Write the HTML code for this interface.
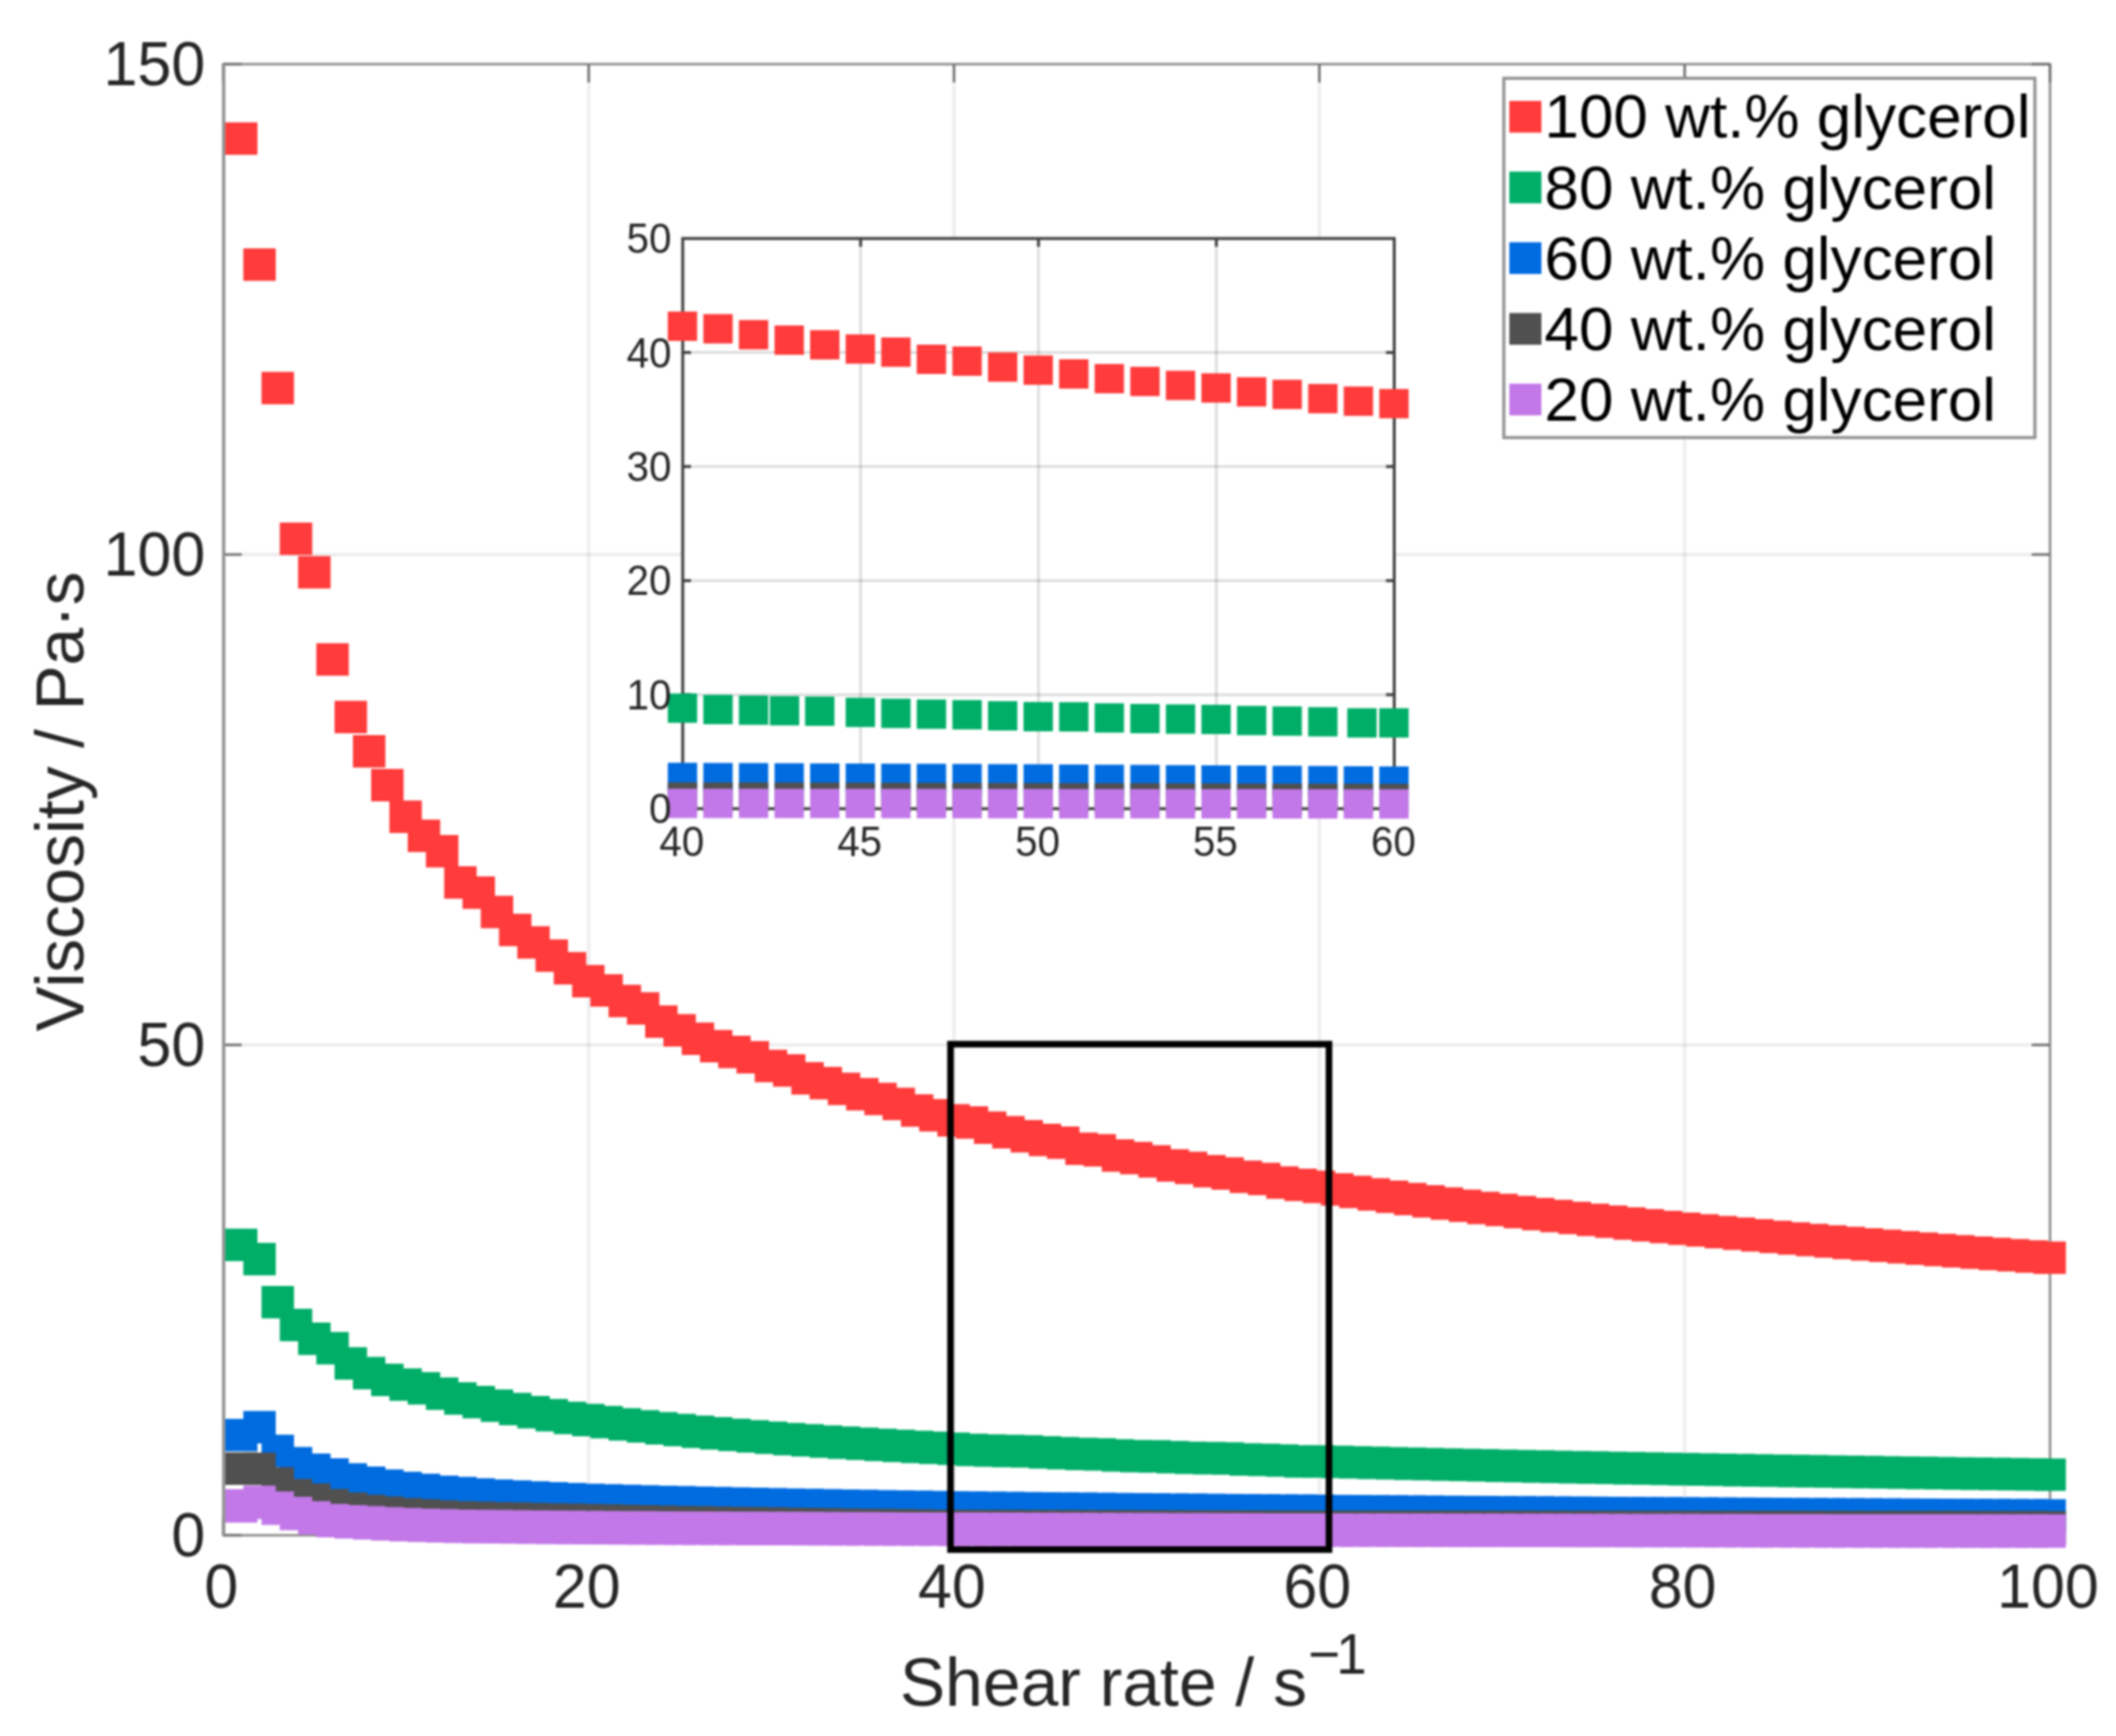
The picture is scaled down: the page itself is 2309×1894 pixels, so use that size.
<!DOCTYPE html>
<html lang="en"><head><meta charset="utf-8"><title>Viscosity vs shear rate</title>
<style>html,body{margin:0;padding:0;background:#fff}body{width:2309px;height:1894px;overflow:hidden}svg{display:block;filter:blur(0.8px)}</style>
</head><body>
<svg width="2309" height="1894" viewBox="0 0 2309 1894" font-family="'Liberation Sans', Arial, Helvetica, sans-serif">
<rect width="2309" height="1894" fill="#fff"/>
<g stroke="rgba(30,30,30,0.075)" stroke-width="3.8">
<line x1="642.4" y1="70.0" x2="642.4" y2="1675.0"/>
<line x1="1041.0" y1="70.0" x2="1041.0" y2="1675.0"/>
<line x1="1439.7" y1="70.0" x2="1439.7" y2="1675.0"/>
<line x1="1838.3" y1="70.0" x2="1838.3" y2="1675.0"/>
<line x1="243.7" y1="1140.0" x2="2237.0" y2="1140.0"/>
<line x1="243.7" y1="605.0" x2="2237.0" y2="605.0"/>
</g>
<rect x="243.7" y="70.0" width="1993.3" height="1605.0" fill="none" stroke="#8a8a8a" stroke-width="2.6"/>
<g stroke="#6e6e6e" stroke-width="2.6">
<line x1="243.7" y1="70.0" x2="243.7" y2="90.0"/>
<line x1="243.7" y1="1675.0" x2="243.7" y2="1655.0"/>
<line x1="642.4" y1="70.0" x2="642.4" y2="90.0"/>
<line x1="642.4" y1="1675.0" x2="642.4" y2="1655.0"/>
<line x1="1041.0" y1="70.0" x2="1041.0" y2="90.0"/>
<line x1="1041.0" y1="1675.0" x2="1041.0" y2="1655.0"/>
<line x1="1439.7" y1="70.0" x2="1439.7" y2="90.0"/>
<line x1="1439.7" y1="1675.0" x2="1439.7" y2="1655.0"/>
<line x1="1838.3" y1="70.0" x2="1838.3" y2="90.0"/>
<line x1="1838.3" y1="1675.0" x2="1838.3" y2="1655.0"/>
<line x1="2237.0" y1="70.0" x2="2237.0" y2="90.0"/>
<line x1="2237.0" y1="1675.0" x2="2237.0" y2="1655.0"/>
<line x1="243.7" y1="1675.0" x2="263.7" y2="1675.0"/>
<line x1="2237.0" y1="1675.0" x2="2217.0" y2="1675.0"/>
<line x1="243.7" y1="1140.0" x2="263.7" y2="1140.0"/>
<line x1="2237.0" y1="1140.0" x2="2217.0" y2="1140.0"/>
<line x1="243.7" y1="605.0" x2="263.7" y2="605.0"/>
<line x1="2237.0" y1="605.0" x2="2217.0" y2="605.0"/>
<line x1="243.7" y1="70.0" x2="263.7" y2="70.0"/>
<line x1="2237.0" y1="70.0" x2="2217.0" y2="70.0"/>
</g>
<g fill="#ff3b3b">
<rect x="245.5" y="133.5" width="35.4" height="35.4"/>
<rect x="265.5" y="271.0" width="35.4" height="35.4"/>
<rect x="285.4" y="405.7" width="35.4" height="35.4"/>
<rect x="305.3" y="570.1" width="35.4" height="35.4"/>
<rect x="325.3" y="606.7" width="35.4" height="35.4"/>
<rect x="345.2" y="701.8" width="35.4" height="35.4"/>
<rect x="365.1" y="764.6" width="35.4" height="35.4"/>
<rect x="385.1" y="802.0" width="35.4" height="35.4"/>
<rect x="405.0" y="838.9" width="35.4" height="35.4"/>
<rect x="424.9" y="873.4" width="35.4" height="35.4"/>
<rect x="444.9" y="894.2" width="35.4" height="35.4"/>
<rect x="464.8" y="911.0" width="35.4" height="35.4"/>
<rect x="484.7" y="945.1" width="35.4" height="35.4"/>
<rect x="504.7" y="956.2" width="35.4" height="35.4"/>
<rect x="524.6" y="977.3" width="35.4" height="35.4"/>
<rect x="544.5" y="996.9" width="35.4" height="35.4"/>
<rect x="564.5" y="1010.5" width="35.4" height="35.4"/>
<rect x="584.4" y="1024.9" width="35.4" height="35.4"/>
<rect x="604.3" y="1038.7" width="35.4" height="35.4"/>
<rect x="624.3" y="1052.8" width="35.4" height="35.4"/>
<rect x="644.2" y="1062.9" width="35.4" height="35.4"/>
<rect x="664.1" y="1074.4" width="35.4" height="35.4"/>
<rect x="684.1" y="1082.5" width="35.4" height="35.4"/>
<rect x="704.0" y="1096.9" width="35.4" height="35.4"/>
<rect x="723.9" y="1106.4" width="35.4" height="35.4"/>
<rect x="743.9" y="1115.6" width="35.4" height="35.4"/>
<rect x="763.8" y="1123.7" width="35.4" height="35.4"/>
<rect x="783.7" y="1130.0" width="35.4" height="35.4"/>
<rect x="803.7" y="1135.8" width="35.4" height="35.4"/>
<rect x="823.6" y="1145.3" width="35.4" height="35.4"/>
<rect x="843.5" y="1150.2" width="35.4" height="35.4"/>
<rect x="863.5" y="1158.8" width="35.4" height="35.4"/>
<rect x="883.4" y="1164.0" width="35.4" height="35.4"/>
<rect x="903.3" y="1170.3" width="35.4" height="35.4"/>
<rect x="923.3" y="1176.1" width="35.4" height="35.4"/>
<rect x="943.2" y="1181.3" width="35.4" height="35.4"/>
<rect x="963.1" y="1186.7" width="35.4" height="35.4"/>
<rect x="983.1" y="1193.9" width="35.4" height="35.4"/>
<rect x="1003.0" y="1199.1" width="35.4" height="35.4"/>
<rect x="1022.9" y="1204.6" width="35.4" height="35.4"/>
<rect x="1042.9" y="1207.0" width="35.4" height="35.4"/>
<rect x="1062.8" y="1212.6" width="35.4" height="35.4"/>
<rect x="1082.7" y="1217.6" width="35.4" height="35.4"/>
<rect x="1102.7" y="1222.0" width="35.4" height="35.4"/>
<rect x="1122.6" y="1226.0" width="35.4" height="35.4"/>
<rect x="1142.5" y="1229.0" width="35.4" height="35.4"/>
<rect x="1162.5" y="1235.6" width="35.4" height="35.4"/>
<rect x="1182.4" y="1237.3" width="35.4" height="35.4"/>
<rect x="1202.3" y="1243.0" width="35.4" height="35.4"/>
<rect x="1222.2" y="1245.8" width="35.4" height="35.4"/>
<rect x="1242.2" y="1249.4" width="35.4" height="35.4"/>
<rect x="1262.1" y="1253.8" width="35.4" height="35.4"/>
<rect x="1282.0" y="1256.5" width="35.4" height="35.4"/>
<rect x="1302.0" y="1260.1" width="35.4" height="35.4"/>
<rect x="1321.9" y="1262.6" width="35.4" height="35.4"/>
<rect x="1341.8" y="1266.2" width="35.4" height="35.4"/>
<rect x="1361.8" y="1268.6" width="35.4" height="35.4"/>
<rect x="1381.7" y="1272.5" width="35.4" height="35.4"/>
<rect x="1401.6" y="1275.0" width="35.4" height="35.4"/>
<rect x="1421.6" y="1277.2" width="35.4" height="35.4"/>
<rect x="1441.5" y="1280.0" width="35.4" height="35.4"/>
<rect x="1461.4" y="1282.7" width="35.4" height="35.4"/>
<rect x="1481.4" y="1285.4" width="35.4" height="35.4"/>
<rect x="1501.3" y="1288.0" width="35.4" height="35.4"/>
<rect x="1521.2" y="1290.5" width="35.4" height="35.4"/>
<rect x="1541.2" y="1293.0" width="35.4" height="35.4"/>
<rect x="1561.1" y="1295.4" width="35.4" height="35.4"/>
<rect x="1581.0" y="1297.8" width="35.4" height="35.4"/>
<rect x="1601.0" y="1300.2" width="35.4" height="35.4"/>
<rect x="1620.9" y="1302.4" width="35.4" height="35.4"/>
<rect x="1640.8" y="1304.7" width="35.4" height="35.4"/>
<rect x="1660.8" y="1306.9" width="35.4" height="35.4"/>
<rect x="1680.7" y="1309.0" width="35.4" height="35.4"/>
<rect x="1700.6" y="1311.1" width="35.4" height="35.4"/>
<rect x="1720.6" y="1313.2" width="35.4" height="35.4"/>
<rect x="1740.5" y="1315.2" width="35.4" height="35.4"/>
<rect x="1760.4" y="1317.2" width="35.4" height="35.4"/>
<rect x="1780.4" y="1319.1" width="35.4" height="35.4"/>
<rect x="1800.3" y="1321.0" width="35.4" height="35.4"/>
<rect x="1820.2" y="1322.9" width="35.4" height="35.4"/>
<rect x="1840.2" y="1324.7" width="35.4" height="35.4"/>
<rect x="1860.1" y="1326.6" width="35.4" height="35.4"/>
<rect x="1880.0" y="1328.3" width="35.4" height="35.4"/>
<rect x="1900.0" y="1330.1" width="35.4" height="35.4"/>
<rect x="1919.9" y="1331.8" width="35.4" height="35.4"/>
<rect x="1939.8" y="1333.5" width="35.4" height="35.4"/>
<rect x="1959.8" y="1335.2" width="35.4" height="35.4"/>
<rect x="1979.7" y="1336.8" width="35.4" height="35.4"/>
<rect x="1999.6" y="1338.4" width="35.4" height="35.4"/>
<rect x="2019.6" y="1340.0" width="35.4" height="35.4"/>
<rect x="2039.5" y="1341.5" width="35.4" height="35.4"/>
<rect x="2059.4" y="1343.1" width="35.4" height="35.4"/>
<rect x="2079.4" y="1344.6" width="35.4" height="35.4"/>
<rect x="2099.3" y="1346.1" width="35.4" height="35.4"/>
<rect x="2119.2" y="1347.5" width="35.4" height="35.4"/>
<rect x="2139.2" y="1349.0" width="35.4" height="35.4"/>
<rect x="2159.1" y="1350.4" width="35.4" height="35.4"/>
<rect x="2179.0" y="1351.8" width="35.4" height="35.4"/>
<rect x="2199.0" y="1353.2" width="35.4" height="35.4"/>
<rect x="2218.9" y="1354.5" width="35.4" height="35.4"/>
</g>
<g fill="#00ae68">
<rect x="245.5" y="1340.5" width="35.4" height="35.4"/>
<rect x="265.5" y="1356.0" width="35.4" height="35.4"/>
<rect x="285.4" y="1403.0" width="35.4" height="35.4"/>
<rect x="305.3" y="1427.9" width="35.4" height="35.4"/>
<rect x="325.3" y="1442.9" width="35.4" height="35.4"/>
<rect x="345.2" y="1453.2" width="35.4" height="35.4"/>
<rect x="365.1" y="1469.8" width="35.4" height="35.4"/>
<rect x="385.1" y="1480.4" width="35.4" height="35.4"/>
<rect x="405.0" y="1487.8" width="35.4" height="35.4"/>
<rect x="424.9" y="1492.9" width="35.4" height="35.4"/>
<rect x="444.9" y="1497.0" width="35.4" height="35.4"/>
<rect x="464.8" y="1502.8" width="35.4" height="35.4"/>
<rect x="484.7" y="1508.1" width="35.4" height="35.4"/>
<rect x="504.7" y="1512.0" width="35.4" height="35.4"/>
<rect x="524.6" y="1515.9" width="35.4" height="35.4"/>
<rect x="544.5" y="1519.6" width="35.4" height="35.4"/>
<rect x="564.5" y="1523.0" width="35.4" height="35.4"/>
<rect x="584.4" y="1526.3" width="35.4" height="35.4"/>
<rect x="604.3" y="1529.3" width="35.4" height="35.4"/>
<rect x="624.3" y="1531.6" width="35.4" height="35.4"/>
<rect x="644.2" y="1533.9" width="35.4" height="35.4"/>
<rect x="664.1" y="1536.3" width="35.4" height="35.4"/>
<rect x="684.1" y="1538.5" width="35.4" height="35.4"/>
<rect x="704.0" y="1540.6" width="35.4" height="35.4"/>
<rect x="723.9" y="1542.5" width="35.4" height="35.4"/>
<rect x="743.9" y="1544.4" width="35.4" height="35.4"/>
<rect x="763.8" y="1546.1" width="35.4" height="35.4"/>
<rect x="783.7" y="1547.8" width="35.4" height="35.4"/>
<rect x="803.7" y="1549.4" width="35.4" height="35.4"/>
<rect x="823.6" y="1550.9" width="35.4" height="35.4"/>
<rect x="843.5" y="1552.4" width="35.4" height="35.4"/>
<rect x="863.5" y="1553.7" width="35.4" height="35.4"/>
<rect x="883.4" y="1555.1" width="35.4" height="35.4"/>
<rect x="903.3" y="1556.3" width="35.4" height="35.4"/>
<rect x="923.3" y="1557.5" width="35.4" height="35.4"/>
<rect x="943.2" y="1558.7" width="35.4" height="35.4"/>
<rect x="963.1" y="1559.8" width="35.4" height="35.4"/>
<rect x="983.1" y="1560.9" width="35.4" height="35.4"/>
<rect x="1003.0" y="1561.9" width="35.4" height="35.4"/>
<rect x="1022.9" y="1562.9" width="35.4" height="35.4"/>
<rect x="1042.9" y="1564.2" width="35.4" height="35.4"/>
<rect x="1062.8" y="1564.9" width="35.4" height="35.4"/>
<rect x="1082.7" y="1565.4" width="35.4" height="35.4"/>
<rect x="1102.7" y="1565.8" width="35.4" height="35.4"/>
<rect x="1122.6" y="1566.9" width="35.4" height="35.4"/>
<rect x="1142.5" y="1567.8" width="35.4" height="35.4"/>
<rect x="1162.5" y="1568.6" width="35.4" height="35.4"/>
<rect x="1182.4" y="1569.1" width="35.4" height="35.4"/>
<rect x="1202.3" y="1570.2" width="35.4" height="35.4"/>
<rect x="1222.2" y="1571.0" width="35.4" height="35.4"/>
<rect x="1242.2" y="1571.2" width="35.4" height="35.4"/>
<rect x="1262.1" y="1572.1" width="35.4" height="35.4"/>
<rect x="1282.0" y="1572.8" width="35.4" height="35.4"/>
<rect x="1302.0" y="1573.2" width="35.4" height="35.4"/>
<rect x="1321.9" y="1573.5" width="35.4" height="35.4"/>
<rect x="1341.8" y="1574.6" width="35.4" height="35.4"/>
<rect x="1361.8" y="1575.1" width="35.4" height="35.4"/>
<rect x="1381.7" y="1575.8" width="35.4" height="35.4"/>
<rect x="1401.6" y="1576.8" width="35.4" height="35.4"/>
<rect x="1421.6" y="1576.8" width="35.4" height="35.4"/>
<rect x="1441.5" y="1577.3" width="35.4" height="35.4"/>
<rect x="1461.4" y="1577.8" width="35.4" height="35.4"/>
<rect x="1481.4" y="1578.3" width="35.4" height="35.4"/>
<rect x="1501.3" y="1578.8" width="35.4" height="35.4"/>
<rect x="1521.2" y="1579.3" width="35.4" height="35.4"/>
<rect x="1541.2" y="1579.7" width="35.4" height="35.4"/>
<rect x="1561.1" y="1580.2" width="35.4" height="35.4"/>
<rect x="1581.0" y="1580.6" width="35.4" height="35.4"/>
<rect x="1601.0" y="1581.0" width="35.4" height="35.4"/>
<rect x="1620.9" y="1581.5" width="35.4" height="35.4"/>
<rect x="1640.8" y="1581.9" width="35.4" height="35.4"/>
<rect x="1660.8" y="1582.3" width="35.4" height="35.4"/>
<rect x="1680.7" y="1582.7" width="35.4" height="35.4"/>
<rect x="1700.6" y="1583.1" width="35.4" height="35.4"/>
<rect x="1720.6" y="1583.4" width="35.4" height="35.4"/>
<rect x="1740.5" y="1583.8" width="35.4" height="35.4"/>
<rect x="1760.4" y="1584.2" width="35.4" height="35.4"/>
<rect x="1780.4" y="1584.5" width="35.4" height="35.4"/>
<rect x="1800.3" y="1584.9" width="35.4" height="35.4"/>
<rect x="1820.2" y="1585.3" width="35.4" height="35.4"/>
<rect x="1840.2" y="1585.6" width="35.4" height="35.4"/>
<rect x="1860.1" y="1585.9" width="35.4" height="35.4"/>
<rect x="1880.0" y="1586.3" width="35.4" height="35.4"/>
<rect x="1900.0" y="1586.6" width="35.4" height="35.4"/>
<rect x="1919.9" y="1586.9" width="35.4" height="35.4"/>
<rect x="1939.8" y="1587.2" width="35.4" height="35.4"/>
<rect x="1959.8" y="1587.5" width="35.4" height="35.4"/>
<rect x="1979.7" y="1587.8" width="35.4" height="35.4"/>
<rect x="1999.6" y="1588.1" width="35.4" height="35.4"/>
<rect x="2019.6" y="1588.4" width="35.4" height="35.4"/>
<rect x="2039.5" y="1588.7" width="35.4" height="35.4"/>
<rect x="2059.4" y="1589.0" width="35.4" height="35.4"/>
<rect x="2079.4" y="1589.3" width="35.4" height="35.4"/>
<rect x="2099.3" y="1589.6" width="35.4" height="35.4"/>
<rect x="2119.2" y="1589.9" width="35.4" height="35.4"/>
<rect x="2139.2" y="1590.1" width="35.4" height="35.4"/>
<rect x="2159.1" y="1590.4" width="35.4" height="35.4"/>
<rect x="2179.0" y="1590.7" width="35.4" height="35.4"/>
<rect x="2199.0" y="1590.9" width="35.4" height="35.4"/>
<rect x="2218.9" y="1591.2" width="35.4" height="35.4"/>
</g>
<g fill="#006ce0">
<rect x="245.5" y="1548.0" width="35.4" height="35.4"/>
<rect x="265.5" y="1539.4" width="35.4" height="35.4"/>
<rect x="285.4" y="1565.3" width="35.4" height="35.4"/>
<rect x="305.3" y="1578.7" width="35.4" height="35.4"/>
<rect x="325.3" y="1585.8" width="35.4" height="35.4"/>
<rect x="345.2" y="1591.0" width="35.4" height="35.4"/>
<rect x="365.1" y="1596.4" width="35.4" height="35.4"/>
<rect x="385.1" y="1600.0" width="35.4" height="35.4"/>
<rect x="405.0" y="1603.2" width="35.4" height="35.4"/>
<rect x="424.9" y="1605.7" width="35.4" height="35.4"/>
<rect x="444.9" y="1607.8" width="35.4" height="35.4"/>
<rect x="464.8" y="1609.9" width="35.4" height="35.4"/>
<rect x="484.7" y="1611.3" width="35.4" height="35.4"/>
<rect x="504.7" y="1612.8" width="35.4" height="35.4"/>
<rect x="524.6" y="1614.1" width="35.4" height="35.4"/>
<rect x="544.5" y="1615.1" width="35.4" height="35.4"/>
<rect x="564.5" y="1616.1" width="35.4" height="35.4"/>
<rect x="584.4" y="1617.0" width="35.4" height="35.4"/>
<rect x="604.3" y="1617.9" width="35.4" height="35.4"/>
<rect x="624.3" y="1618.7" width="35.4" height="35.4"/>
<rect x="644.2" y="1619.3" width="35.4" height="35.4"/>
<rect x="664.1" y="1619.8" width="35.4" height="35.4"/>
<rect x="684.1" y="1620.4" width="35.4" height="35.4"/>
<rect x="704.0" y="1620.9" width="35.4" height="35.4"/>
<rect x="723.9" y="1621.3" width="35.4" height="35.4"/>
<rect x="743.9" y="1621.8" width="35.4" height="35.4"/>
<rect x="763.8" y="1622.3" width="35.4" height="35.4"/>
<rect x="783.7" y="1622.7" width="35.4" height="35.4"/>
<rect x="803.7" y="1623.1" width="35.4" height="35.4"/>
<rect x="823.6" y="1623.5" width="35.4" height="35.4"/>
<rect x="843.5" y="1623.9" width="35.4" height="35.4"/>
<rect x="863.5" y="1624.3" width="35.4" height="35.4"/>
<rect x="883.4" y="1624.6" width="35.4" height="35.4"/>
<rect x="903.3" y="1625.0" width="35.4" height="35.4"/>
<rect x="923.3" y="1625.3" width="35.4" height="35.4"/>
<rect x="943.2" y="1625.7" width="35.4" height="35.4"/>
<rect x="963.1" y="1626.0" width="35.4" height="35.4"/>
<rect x="983.1" y="1626.3" width="35.4" height="35.4"/>
<rect x="1003.0" y="1626.6" width="35.4" height="35.4"/>
<rect x="1022.9" y="1626.9" width="35.4" height="35.4"/>
<rect x="1042.9" y="1627.1" width="35.4" height="35.4"/>
<rect x="1062.8" y="1627.4" width="35.4" height="35.4"/>
<rect x="1082.7" y="1627.6" width="35.4" height="35.4"/>
<rect x="1102.7" y="1627.8" width="35.4" height="35.4"/>
<rect x="1122.6" y="1628.0" width="35.4" height="35.4"/>
<rect x="1142.5" y="1628.2" width="35.4" height="35.4"/>
<rect x="1162.5" y="1628.4" width="35.4" height="35.4"/>
<rect x="1182.4" y="1628.6" width="35.4" height="35.4"/>
<rect x="1202.3" y="1628.8" width="35.4" height="35.4"/>
<rect x="1222.2" y="1629.0" width="35.4" height="35.4"/>
<rect x="1242.2" y="1629.2" width="35.4" height="35.4"/>
<rect x="1262.1" y="1629.4" width="35.4" height="35.4"/>
<rect x="1282.0" y="1629.5" width="35.4" height="35.4"/>
<rect x="1302.0" y="1629.7" width="35.4" height="35.4"/>
<rect x="1321.9" y="1629.9" width="35.4" height="35.4"/>
<rect x="1341.8" y="1630.1" width="35.4" height="35.4"/>
<rect x="1361.8" y="1630.2" width="35.4" height="35.4"/>
<rect x="1381.7" y="1630.4" width="35.4" height="35.4"/>
<rect x="1401.6" y="1630.5" width="35.4" height="35.4"/>
<rect x="1421.6" y="1630.7" width="35.4" height="35.4"/>
<rect x="1441.5" y="1630.9" width="35.4" height="35.4"/>
<rect x="1461.4" y="1631.0" width="35.4" height="35.4"/>
<rect x="1481.4" y="1631.2" width="35.4" height="35.4"/>
<rect x="1501.3" y="1631.3" width="35.4" height="35.4"/>
<rect x="1521.2" y="1631.5" width="35.4" height="35.4"/>
<rect x="1541.2" y="1631.6" width="35.4" height="35.4"/>
<rect x="1561.1" y="1631.8" width="35.4" height="35.4"/>
<rect x="1581.0" y="1631.9" width="35.4" height="35.4"/>
<rect x="1601.0" y="1632.0" width="35.4" height="35.4"/>
<rect x="1620.9" y="1632.2" width="35.4" height="35.4"/>
<rect x="1640.8" y="1632.3" width="35.4" height="35.4"/>
<rect x="1660.8" y="1632.4" width="35.4" height="35.4"/>
<rect x="1680.7" y="1632.6" width="35.4" height="35.4"/>
<rect x="1700.6" y="1632.7" width="35.4" height="35.4"/>
<rect x="1720.6" y="1632.8" width="35.4" height="35.4"/>
<rect x="1740.5" y="1633.0" width="35.4" height="35.4"/>
<rect x="1760.4" y="1633.1" width="35.4" height="35.4"/>
<rect x="1780.4" y="1633.2" width="35.4" height="35.4"/>
<rect x="1800.3" y="1633.3" width="35.4" height="35.4"/>
<rect x="1820.2" y="1633.5" width="35.4" height="35.4"/>
<rect x="1840.2" y="1633.6" width="35.4" height="35.4"/>
<rect x="1860.1" y="1633.7" width="35.4" height="35.4"/>
<rect x="1880.0" y="1633.8" width="35.4" height="35.4"/>
<rect x="1900.0" y="1633.9" width="35.4" height="35.4"/>
<rect x="1919.9" y="1634.0" width="35.4" height="35.4"/>
<rect x="1939.8" y="1634.2" width="35.4" height="35.4"/>
<rect x="1959.8" y="1634.3" width="35.4" height="35.4"/>
<rect x="1979.7" y="1634.4" width="35.4" height="35.4"/>
<rect x="1999.6" y="1634.5" width="35.4" height="35.4"/>
<rect x="2019.6" y="1634.6" width="35.4" height="35.4"/>
<rect x="2039.5" y="1634.7" width="35.4" height="35.4"/>
<rect x="2059.4" y="1634.8" width="35.4" height="35.4"/>
<rect x="2079.4" y="1634.9" width="35.4" height="35.4"/>
<rect x="2099.3" y="1635.0" width="35.4" height="35.4"/>
<rect x="2119.2" y="1635.1" width="35.4" height="35.4"/>
<rect x="2139.2" y="1635.2" width="35.4" height="35.4"/>
<rect x="2159.1" y="1635.3" width="35.4" height="35.4"/>
<rect x="2179.0" y="1635.4" width="35.4" height="35.4"/>
<rect x="2199.0" y="1635.5" width="35.4" height="35.4"/>
<rect x="2218.9" y="1635.6" width="35.4" height="35.4"/>
</g>
<g fill="#505050">
<rect x="245.5" y="1584.6" width="35.4" height="35.4"/>
<rect x="265.5" y="1584.8" width="35.4" height="35.4"/>
<rect x="285.4" y="1600.7" width="35.4" height="35.4"/>
<rect x="305.3" y="1613.5" width="35.4" height="35.4"/>
<rect x="325.3" y="1618.4" width="35.4" height="35.4"/>
<rect x="345.2" y="1624.5" width="35.4" height="35.4"/>
<rect x="365.1" y="1628.3" width="35.4" height="35.4"/>
<rect x="385.1" y="1630.8" width="35.4" height="35.4"/>
<rect x="405.0" y="1632.6" width="35.4" height="35.4"/>
<rect x="424.9" y="1634.3" width="35.4" height="35.4"/>
<rect x="444.9" y="1635.6" width="35.4" height="35.4"/>
<rect x="464.8" y="1636.8" width="35.4" height="35.4"/>
<rect x="484.7" y="1637.8" width="35.4" height="35.4"/>
<rect x="504.7" y="1638.3" width="35.4" height="35.4"/>
<rect x="524.6" y="1638.8" width="35.4" height="35.4"/>
<rect x="544.5" y="1639.2" width="35.4" height="35.4"/>
<rect x="564.5" y="1639.7" width="35.4" height="35.4"/>
<rect x="584.4" y="1640.1" width="35.4" height="35.4"/>
<rect x="604.3" y="1640.4" width="35.4" height="35.4"/>
<rect x="624.3" y="1640.8" width="35.4" height="35.4"/>
<rect x="644.2" y="1641.3" width="35.4" height="35.4"/>
<rect x="664.1" y="1641.7" width="35.4" height="35.4"/>
<rect x="684.1" y="1642.1" width="35.4" height="35.4"/>
<rect x="704.0" y="1642.5" width="35.4" height="35.4"/>
<rect x="723.9" y="1642.9" width="35.4" height="35.4"/>
<rect x="743.9" y="1643.2" width="35.4" height="35.4"/>
<rect x="763.8" y="1643.6" width="35.4" height="35.4"/>
<rect x="783.7" y="1643.9" width="35.4" height="35.4"/>
<rect x="803.7" y="1644.2" width="35.4" height="35.4"/>
<rect x="823.6" y="1644.5" width="35.4" height="35.4"/>
<rect x="843.5" y="1644.8" width="35.4" height="35.4"/>
<rect x="863.5" y="1645.1" width="35.4" height="35.4"/>
<rect x="883.4" y="1645.4" width="35.4" height="35.4"/>
<rect x="903.3" y="1645.7" width="35.4" height="35.4"/>
<rect x="923.3" y="1646.0" width="35.4" height="35.4"/>
<rect x="943.2" y="1646.2" width="35.4" height="35.4"/>
<rect x="963.1" y="1646.5" width="35.4" height="35.4"/>
<rect x="983.1" y="1646.7" width="35.4" height="35.4"/>
<rect x="1003.0" y="1647.0" width="35.4" height="35.4"/>
<rect x="1022.9" y="1647.2" width="35.4" height="35.4"/>
<rect x="1042.9" y="1647.2" width="35.4" height="35.4"/>
<rect x="1062.8" y="1647.3" width="35.4" height="35.4"/>
<rect x="1082.7" y="1647.3" width="35.4" height="35.4"/>
<rect x="1102.7" y="1647.4" width="35.4" height="35.4"/>
<rect x="1122.6" y="1647.4" width="35.4" height="35.4"/>
<rect x="1142.5" y="1647.5" width="35.4" height="35.4"/>
<rect x="1162.5" y="1647.5" width="35.4" height="35.4"/>
<rect x="1182.4" y="1647.6" width="35.4" height="35.4"/>
<rect x="1202.3" y="1647.6" width="35.4" height="35.4"/>
<rect x="1222.2" y="1647.6" width="35.4" height="35.4"/>
<rect x="1242.2" y="1647.7" width="35.4" height="35.4"/>
<rect x="1262.1" y="1647.7" width="35.4" height="35.4"/>
<rect x="1282.0" y="1647.8" width="35.4" height="35.4"/>
<rect x="1302.0" y="1647.8" width="35.4" height="35.4"/>
<rect x="1321.9" y="1647.8" width="35.4" height="35.4"/>
<rect x="1341.8" y="1647.9" width="35.4" height="35.4"/>
<rect x="1361.8" y="1647.9" width="35.4" height="35.4"/>
<rect x="1381.7" y="1647.9" width="35.4" height="35.4"/>
<rect x="1401.6" y="1648.0" width="35.4" height="35.4"/>
<rect x="1421.6" y="1648.0" width="35.4" height="35.4"/>
<rect x="1441.5" y="1648.0" width="35.4" height="35.4"/>
<rect x="1461.4" y="1648.0" width="35.4" height="35.4"/>
<rect x="1481.4" y="1648.1" width="35.4" height="35.4"/>
<rect x="1501.3" y="1648.1" width="35.4" height="35.4"/>
<rect x="1521.2" y="1648.1" width="35.4" height="35.4"/>
<rect x="1541.2" y="1648.1" width="35.4" height="35.4"/>
<rect x="1561.1" y="1648.1" width="35.4" height="35.4"/>
<rect x="1581.0" y="1648.1" width="35.4" height="35.4"/>
<rect x="1601.0" y="1648.2" width="35.4" height="35.4"/>
<rect x="1620.9" y="1648.2" width="35.4" height="35.4"/>
<rect x="1640.8" y="1648.2" width="35.4" height="35.4"/>
<rect x="1660.8" y="1648.2" width="35.4" height="35.4"/>
<rect x="1680.7" y="1648.2" width="35.4" height="35.4"/>
<rect x="1700.6" y="1648.2" width="35.4" height="35.4"/>
<rect x="1720.6" y="1648.3" width="35.4" height="35.4"/>
<rect x="1740.5" y="1648.3" width="35.4" height="35.4"/>
<rect x="1760.4" y="1648.3" width="35.4" height="35.4"/>
<rect x="1780.4" y="1648.3" width="35.4" height="35.4"/>
<rect x="1800.3" y="1648.3" width="35.4" height="35.4"/>
<rect x="1820.2" y="1648.3" width="35.4" height="35.4"/>
<rect x="1840.2" y="1648.4" width="35.4" height="35.4"/>
<rect x="1860.1" y="1648.4" width="35.4" height="35.4"/>
<rect x="1880.0" y="1648.4" width="35.4" height="35.4"/>
<rect x="1900.0" y="1648.4" width="35.4" height="35.4"/>
<rect x="1919.9" y="1648.4" width="35.4" height="35.4"/>
<rect x="1939.8" y="1648.4" width="35.4" height="35.4"/>
<rect x="1959.8" y="1648.4" width="35.4" height="35.4"/>
<rect x="1979.7" y="1648.4" width="35.4" height="35.4"/>
<rect x="1999.6" y="1648.5" width="35.4" height="35.4"/>
<rect x="2019.6" y="1648.5" width="35.4" height="35.4"/>
<rect x="2039.5" y="1648.5" width="35.4" height="35.4"/>
<rect x="2059.4" y="1648.5" width="35.4" height="35.4"/>
<rect x="2079.4" y="1648.5" width="35.4" height="35.4"/>
<rect x="2099.3" y="1648.5" width="35.4" height="35.4"/>
<rect x="2119.2" y="1648.5" width="35.4" height="35.4"/>
<rect x="2139.2" y="1648.6" width="35.4" height="35.4"/>
<rect x="2159.1" y="1648.6" width="35.4" height="35.4"/>
<rect x="2179.0" y="1648.6" width="35.4" height="35.4"/>
<rect x="2199.0" y="1648.6" width="35.4" height="35.4"/>
<rect x="2218.9" y="1648.6" width="35.4" height="35.4"/>
</g>
<g fill="#c278e8">
<rect x="245.5" y="1624.7" width="35.4" height="36.5"/>
<rect x="265.5" y="1620.8" width="35.4" height="36.5"/>
<rect x="285.4" y="1627.2" width="35.4" height="36.5"/>
<rect x="305.3" y="1633.0" width="35.4" height="36.5"/>
<rect x="325.3" y="1637.8" width="35.4" height="36.5"/>
<rect x="345.2" y="1640.8" width="35.4" height="36.5"/>
<rect x="365.1" y="1642.1" width="35.4" height="36.5"/>
<rect x="385.1" y="1643.2" width="35.4" height="36.5"/>
<rect x="405.0" y="1644.3" width="35.4" height="36.5"/>
<rect x="424.9" y="1645.2" width="35.4" height="36.5"/>
<rect x="444.9" y="1645.9" width="35.4" height="36.5"/>
<rect x="464.8" y="1646.5" width="35.4" height="36.5"/>
<rect x="484.7" y="1647.0" width="35.4" height="36.5"/>
<rect x="504.7" y="1647.3" width="35.4" height="36.5"/>
<rect x="524.6" y="1647.5" width="35.4" height="36.5"/>
<rect x="544.5" y="1647.7" width="35.4" height="36.5"/>
<rect x="564.5" y="1647.9" width="35.4" height="36.5"/>
<rect x="584.4" y="1648.1" width="35.4" height="36.5"/>
<rect x="604.3" y="1648.3" width="35.4" height="36.5"/>
<rect x="624.3" y="1648.5" width="35.4" height="36.5"/>
<rect x="644.2" y="1648.6" width="35.4" height="36.5"/>
<rect x="664.1" y="1648.7" width="35.4" height="36.5"/>
<rect x="684.1" y="1648.8" width="35.4" height="36.5"/>
<rect x="704.0" y="1648.9" width="35.4" height="36.5"/>
<rect x="723.9" y="1649.0" width="35.4" height="36.5"/>
<rect x="743.9" y="1649.1" width="35.4" height="36.5"/>
<rect x="763.8" y="1649.2" width="35.4" height="36.5"/>
<rect x="783.7" y="1649.3" width="35.4" height="36.5"/>
<rect x="803.7" y="1649.4" width="35.4" height="36.5"/>
<rect x="823.6" y="1649.4" width="35.4" height="36.5"/>
<rect x="843.5" y="1649.5" width="35.4" height="36.5"/>
<rect x="863.5" y="1649.6" width="35.4" height="36.5"/>
<rect x="883.4" y="1649.7" width="35.4" height="36.5"/>
<rect x="903.3" y="1649.8" width="35.4" height="36.5"/>
<rect x="923.3" y="1649.8" width="35.4" height="36.5"/>
<rect x="943.2" y="1649.9" width="35.4" height="36.5"/>
<rect x="963.1" y="1650.0" width="35.4" height="36.5"/>
<rect x="983.1" y="1650.0" width="35.4" height="36.5"/>
<rect x="1003.0" y="1650.1" width="35.4" height="36.5"/>
<rect x="1022.9" y="1650.2" width="35.4" height="36.5"/>
<rect x="1042.9" y="1650.2" width="35.4" height="36.5"/>
<rect x="1062.8" y="1650.3" width="35.4" height="36.5"/>
<rect x="1082.7" y="1650.3" width="35.4" height="36.5"/>
<rect x="1102.7" y="1650.4" width="35.4" height="36.5"/>
<rect x="1122.6" y="1650.4" width="35.4" height="36.5"/>
<rect x="1142.5" y="1650.5" width="35.4" height="36.5"/>
<rect x="1162.5" y="1650.5" width="35.4" height="36.5"/>
<rect x="1182.4" y="1650.6" width="35.4" height="36.5"/>
<rect x="1202.3" y="1650.6" width="35.4" height="36.5"/>
<rect x="1222.2" y="1650.7" width="35.4" height="36.5"/>
<rect x="1242.2" y="1650.7" width="35.4" height="36.5"/>
<rect x="1262.1" y="1650.8" width="35.4" height="36.5"/>
<rect x="1282.0" y="1650.8" width="35.4" height="36.5"/>
<rect x="1302.0" y="1650.8" width="35.4" height="36.5"/>
<rect x="1321.9" y="1650.9" width="35.4" height="36.5"/>
<rect x="1341.8" y="1650.9" width="35.4" height="36.5"/>
<rect x="1361.8" y="1651.0" width="35.4" height="36.5"/>
<rect x="1381.7" y="1651.0" width="35.4" height="36.5"/>
<rect x="1401.6" y="1651.0" width="35.4" height="36.5"/>
<rect x="1421.6" y="1651.1" width="35.4" height="36.5"/>
<rect x="1441.5" y="1651.1" width="35.4" height="36.5"/>
<rect x="1461.4" y="1651.2" width="35.4" height="36.5"/>
<rect x="1481.4" y="1651.2" width="35.4" height="36.5"/>
<rect x="1501.3" y="1651.2" width="35.4" height="36.5"/>
<rect x="1521.2" y="1651.3" width="35.4" height="36.5"/>
<rect x="1541.2" y="1651.3" width="35.4" height="36.5"/>
<rect x="1561.1" y="1651.3" width="35.4" height="36.5"/>
<rect x="1581.0" y="1651.4" width="35.4" height="36.5"/>
<rect x="1601.0" y="1651.4" width="35.4" height="36.5"/>
<rect x="1620.9" y="1651.4" width="35.4" height="36.5"/>
<rect x="1640.8" y="1651.5" width="35.4" height="36.5"/>
<rect x="1660.8" y="1651.5" width="35.4" height="36.5"/>
<rect x="1680.7" y="1651.5" width="35.4" height="36.5"/>
<rect x="1700.6" y="1651.6" width="35.4" height="36.5"/>
<rect x="1720.6" y="1651.6" width="35.4" height="36.5"/>
<rect x="1740.5" y="1651.6" width="35.4" height="36.5"/>
<rect x="1760.4" y="1651.7" width="35.4" height="36.5"/>
<rect x="1780.4" y="1651.7" width="35.4" height="36.5"/>
<rect x="1800.3" y="1651.7" width="35.4" height="36.5"/>
<rect x="1820.2" y="1651.7" width="35.4" height="36.5"/>
<rect x="1840.2" y="1651.8" width="35.4" height="36.5"/>
<rect x="1860.1" y="1651.8" width="35.4" height="36.5"/>
<rect x="1880.0" y="1651.8" width="35.4" height="36.5"/>
<rect x="1900.0" y="1651.9" width="35.4" height="36.5"/>
<rect x="1919.9" y="1651.9" width="35.4" height="36.5"/>
<rect x="1939.8" y="1651.9" width="35.4" height="36.5"/>
<rect x="1959.8" y="1651.9" width="35.4" height="36.5"/>
<rect x="1979.7" y="1652.0" width="35.4" height="36.5"/>
<rect x="1999.6" y="1652.0" width="35.4" height="36.5"/>
<rect x="2019.6" y="1652.0" width="35.4" height="36.5"/>
<rect x="2039.5" y="1652.0" width="35.4" height="36.5"/>
<rect x="2059.4" y="1652.1" width="35.4" height="36.5"/>
<rect x="2079.4" y="1652.1" width="35.4" height="36.5"/>
<rect x="2099.3" y="1652.1" width="35.4" height="36.5"/>
<rect x="2119.2" y="1652.1" width="35.4" height="36.5"/>
<rect x="2139.2" y="1652.2" width="35.4" height="36.5"/>
<rect x="2159.1" y="1652.2" width="35.4" height="36.5"/>
<rect x="2179.0" y="1652.2" width="35.4" height="36.5"/>
<rect x="2199.0" y="1652.2" width="35.4" height="36.5"/>
<rect x="2218.9" y="1652.2" width="35.4" height="36.5"/>
</g>
<line x1="244.3" y1="70.0" x2="244.3" y2="1675.0" stroke="#909090" stroke-width="3"/>
<rect x="1037.2" y="1139.2" width="413" height="551.4" fill="none" stroke="#000" stroke-width="7.2"/>
<text transform="translate(241.5 1754.4) scale(1 1.035)" font-size="66.5" text-anchor="middle" fill="#262626">0</text>
<text transform="translate(640.2 1754.4) scale(1 1.035)" font-size="66.5" text-anchor="middle" fill="#262626">20</text>
<text transform="translate(1038.8 1754.4) scale(1 1.035)" font-size="66.5" text-anchor="middle" fill="#262626">40</text>
<text transform="translate(1437.5 1754.4) scale(1 1.035)" font-size="66.5" text-anchor="middle" fill="#262626">60</text>
<text transform="translate(1836.1 1754.4) scale(1 1.035)" font-size="66.5" text-anchor="middle" fill="#262626">80</text>
<text transform="translate(2234.8 1754.4) scale(1 1.035)" font-size="66.5" text-anchor="middle" fill="#262626">100</text>
<text transform="translate(224.0 1698.4) scale(1 1.035)" font-size="66.5" text-anchor="end" fill="#262626">0</text>
<text transform="translate(224.0 1163.4) scale(1 1.035)" font-size="66.5" text-anchor="end" fill="#262626">50</text>
<text transform="translate(224.0 628.4) scale(1 1.035)" font-size="66.5" text-anchor="end" fill="#262626">100</text>
<text transform="translate(224.0 93.4) scale(1 1.035)" font-size="66.5" text-anchor="end" fill="#262626">150</text>
<text transform="translate(982.0 1861.3) scale(1 1.0)" font-size="74" text-anchor="start" fill="#262626">Shear rate / s</text>
<text transform="translate(1427.6 1825.5) scale(1 1.035)" font-size="60" text-anchor="start" fill="#262626">−</text>
<text transform="translate(1458.0 1825.5) scale(1 1.035)" font-size="60" text-anchor="start" fill="#262626">1</text>
<text transform="translate(91 874.5) rotate(-90)" font-size="73.6" fill="#262626" text-anchor="middle">Viscosity / Pa·s</text>
<rect x="1641" y="85.4" width="579.5" height="392" fill="#fff" stroke="#929292" stroke-width="3.4"/>
<rect x="1647" y="110.1" width="35" height="34.6" fill="#ff3b3b"/>
<text transform="translate(1685.3 150.3) scale(1 0.985)" font-size="67.7" text-anchor="start" fill="#000">100 wt.% glycerol</text>
<rect x="1647" y="187.2" width="35" height="34.6" fill="#00ae68"/>
<text transform="translate(1685.3 227.5) scale(1 0.985)" font-size="67.7" text-anchor="start" fill="#000">80 wt.% glycerol</text>
<rect x="1647" y="264.3" width="35" height="34.6" fill="#006ce0"/>
<text transform="translate(1685.3 304.7) scale(1 0.985)" font-size="67.7" text-anchor="start" fill="#000">60 wt.% glycerol</text>
<rect x="1647" y="341.5" width="35" height="34.6" fill="#505050"/>
<text transform="translate(1685.3 381.9) scale(1 0.985)" font-size="67.7" text-anchor="start" fill="#000">40 wt.% glycerol</text>
<rect x="1647" y="418.6" width="35" height="34.6" fill="#c278e8"/>
<text transform="translate(1685.3 459.1) scale(1 0.985)" font-size="67.7" text-anchor="start" fill="#000">20 wt.% glycerol</text>
<rect x="745.0" y="260.2" width="776.4" height="622.1" fill="#fff"/>
<g stroke="rgba(30,30,30,0.15)" stroke-width="3">
<line x1="939.1" y1="260.2" x2="939.1" y2="882.3"/>
<line x1="1133.2" y1="260.2" x2="1133.2" y2="882.3"/>
<line x1="1327.3" y1="260.2" x2="1327.3" y2="882.3"/>
<line x1="745.0" y1="757.9" x2="1521.4" y2="757.9"/>
<line x1="745.0" y1="633.5" x2="1521.4" y2="633.5"/>
<line x1="745.0" y1="509.0" x2="1521.4" y2="509.0"/>
<line x1="745.0" y1="384.6" x2="1521.4" y2="384.6"/>
</g>
<rect x="745.0" y="260.2" width="776.4" height="622.1" fill="none" stroke="#404040" stroke-width="3.2"/>
<g stroke="#404040" stroke-width="3.2">
<line x1="939.1" y1="260.2" x2="939.1" y2="269.2"/>
<line x1="939.1" y1="882.3" x2="939.1" y2="873.3"/>
<line x1="1133.2" y1="260.2" x2="1133.2" y2="269.2"/>
<line x1="1133.2" y1="882.3" x2="1133.2" y2="873.3"/>
<line x1="1327.3" y1="260.2" x2="1327.3" y2="269.2"/>
<line x1="1327.3" y1="882.3" x2="1327.3" y2="873.3"/>
<line x1="745.0" y1="757.9" x2="754.0" y2="757.9"/>
<line x1="1521.4" y1="757.9" x2="1512.4" y2="757.9"/>
<line x1="745.0" y1="633.5" x2="754.0" y2="633.5"/>
<line x1="1521.4" y1="633.5" x2="1512.4" y2="633.5"/>
<line x1="745.0" y1="509.0" x2="754.0" y2="509.0"/>
<line x1="1521.4" y1="509.0" x2="1512.4" y2="509.0"/>
<line x1="745.0" y1="384.6" x2="754.0" y2="384.6"/>
<line x1="1521.4" y1="384.6" x2="1512.4" y2="384.6"/>
</g>
<g fill="#ff3b3b">
<rect x="728.7" y="339.9" width="32.0" height="32.0"/>
<rect x="767.5" y="342.7" width="32.0" height="32.0"/>
<rect x="806.3" y="349.2" width="32.0" height="32.0"/>
<rect x="845.2" y="355.1" width="32.0" height="32.0"/>
<rect x="884.0" y="360.2" width="32.0" height="32.0"/>
<rect x="922.8" y="364.8" width="32.0" height="32.0"/>
<rect x="961.6" y="368.2" width="32.0" height="32.0"/>
<rect x="1000.4" y="376.0" width="32.0" height="32.0"/>
<rect x="1039.3" y="378.0" width="32.0" height="32.0"/>
<rect x="1078.1" y="384.5" width="32.0" height="32.0"/>
<rect x="1116.9" y="387.8" width="32.0" height="32.0"/>
<rect x="1155.7" y="392.0" width="32.0" height="32.0"/>
<rect x="1194.5" y="397.1" width="32.0" height="32.0"/>
<rect x="1233.4" y="400.2" width="32.0" height="32.0"/>
<rect x="1272.2" y="404.5" width="32.0" height="32.0"/>
<rect x="1311.0" y="407.3" width="32.0" height="32.0"/>
<rect x="1349.8" y="411.5" width="32.0" height="32.0"/>
<rect x="1388.6" y="414.3" width="32.0" height="32.0"/>
<rect x="1427.5" y="418.9" width="32.0" height="32.0"/>
<rect x="1466.3" y="421.7" width="32.0" height="32.0"/>
<rect x="1505.1" y="424.4" width="32.0" height="32.0"/>
</g>
<g fill="#00ae68">
<rect x="728.7" y="756.6" width="32.0" height="32.0"/>
<rect x="767.5" y="758.1" width="32.0" height="32.0"/>
<rect x="806.3" y="758.8" width="32.0" height="32.0"/>
<rect x="840.1" y="759.4" width="32.0" height="32.0"/>
<rect x="878.5" y="759.9" width="32.0" height="32.0"/>
<rect x="922.8" y="761.2" width="32.0" height="32.0"/>
<rect x="961.6" y="762.3" width="32.0" height="32.0"/>
<rect x="1000.4" y="763.2" width="32.0" height="32.0"/>
<rect x="1039.3" y="763.8" width="32.0" height="32.0"/>
<rect x="1078.1" y="765.0" width="32.0" height="32.0"/>
<rect x="1116.9" y="765.9" width="32.0" height="32.0"/>
<rect x="1155.7" y="766.1" width="32.0" height="32.0"/>
<rect x="1194.5" y="767.3" width="32.0" height="32.0"/>
<rect x="1233.4" y="768.0" width="32.0" height="32.0"/>
<rect x="1272.2" y="768.5" width="32.0" height="32.0"/>
<rect x="1311.0" y="768.9" width="32.0" height="32.0"/>
<rect x="1349.8" y="770.1" width="32.0" height="32.0"/>
<rect x="1388.6" y="770.7" width="32.0" height="32.0"/>
<rect x="1427.5" y="771.5" width="32.0" height="32.0"/>
<rect x="1470.2" y="772.7" width="32.0" height="32.0"/>
<rect x="1505.1" y="772.7" width="32.0" height="32.0"/>
</g>
<g fill="#006ce0">
<rect x="728.7" y="832.2" width="32.0" height="32.0"/>
<rect x="767.5" y="832.4" width="32.0" height="32.0"/>
<rect x="806.3" y="832.5" width="32.0" height="32.0"/>
<rect x="845.2" y="832.7" width="32.0" height="32.0"/>
<rect x="884.0" y="832.9" width="32.0" height="32.0"/>
<rect x="922.8" y="833.0" width="32.0" height="32.0"/>
<rect x="961.6" y="833.2" width="32.0" height="32.0"/>
<rect x="1000.4" y="833.3" width="32.0" height="32.0"/>
<rect x="1039.3" y="833.5" width="32.0" height="32.0"/>
<rect x="1078.1" y="833.7" width="32.0" height="32.0"/>
<rect x="1116.9" y="833.8" width="32.0" height="32.0"/>
<rect x="1155.7" y="834.1" width="32.0" height="32.0"/>
<rect x="1194.5" y="834.3" width="32.0" height="32.0"/>
<rect x="1233.4" y="834.5" width="32.0" height="32.0"/>
<rect x="1272.2" y="834.8" width="32.0" height="32.0"/>
<rect x="1311.0" y="835.0" width="32.0" height="32.0"/>
<rect x="1349.8" y="835.2" width="32.0" height="32.0"/>
<rect x="1388.6" y="835.5" width="32.0" height="32.0"/>
<rect x="1427.5" y="835.7" width="32.0" height="32.0"/>
<rect x="1466.3" y="836.0" width="32.0" height="32.0"/>
<rect x="1505.1" y="836.2" width="32.0" height="32.0"/>
</g>
<g fill="#505050">
<rect x="728.7" y="853.5" width="32.0" height="32.0"/>
<rect x="767.5" y="853.6" width="32.0" height="32.0"/>
<rect x="806.3" y="853.6" width="32.0" height="32.0"/>
<rect x="845.2" y="853.7" width="32.0" height="32.0"/>
<rect x="884.0" y="853.8" width="32.0" height="32.0"/>
<rect x="922.8" y="853.9" width="32.0" height="32.0"/>
<rect x="961.6" y="854.0" width="32.0" height="32.0"/>
<rect x="1000.4" y="854.1" width="32.0" height="32.0"/>
<rect x="1039.3" y="854.1" width="32.0" height="32.0"/>
<rect x="1078.1" y="854.2" width="32.0" height="32.0"/>
<rect x="1116.9" y="854.3" width="32.0" height="32.0"/>
<rect x="1155.7" y="854.4" width="32.0" height="32.0"/>
<rect x="1194.5" y="854.5" width="32.0" height="32.0"/>
<rect x="1233.4" y="854.5" width="32.0" height="32.0"/>
<rect x="1272.2" y="854.6" width="32.0" height="32.0"/>
<rect x="1311.0" y="854.7" width="32.0" height="32.0"/>
<rect x="1349.8" y="854.8" width="32.0" height="32.0"/>
<rect x="1388.6" y="854.9" width="32.0" height="32.0"/>
<rect x="1427.5" y="854.9" width="32.0" height="32.0"/>
<rect x="1466.3" y="855.0" width="32.0" height="32.0"/>
<rect x="1505.1" y="855.1" width="32.0" height="32.0"/>
</g>
<g fill="#c278e8">
<rect x="728.7" y="860.5" width="32.0" height="32.0"/>
<rect x="767.5" y="860.5" width="32.0" height="32.0"/>
<rect x="806.3" y="860.5" width="32.0" height="32.0"/>
<rect x="845.2" y="860.6" width="32.0" height="32.0"/>
<rect x="884.0" y="860.6" width="32.0" height="32.0"/>
<rect x="922.8" y="860.6" width="32.0" height="32.0"/>
<rect x="961.6" y="860.7" width="32.0" height="32.0"/>
<rect x="1000.4" y="860.7" width="32.0" height="32.0"/>
<rect x="1039.3" y="860.8" width="32.0" height="32.0"/>
<rect x="1078.1" y="860.8" width="32.0" height="32.0"/>
<rect x="1116.9" y="860.8" width="32.0" height="32.0"/>
<rect x="1155.7" y="860.9" width="32.0" height="32.0"/>
<rect x="1194.5" y="860.9" width="32.0" height="32.0"/>
<rect x="1233.4" y="860.9" width="32.0" height="32.0"/>
<rect x="1272.2" y="861.0" width="32.0" height="32.0"/>
<rect x="1311.0" y="861.0" width="32.0" height="32.0"/>
<rect x="1349.8" y="861.0" width="32.0" height="32.0"/>
<rect x="1388.6" y="861.1" width="32.0" height="32.0"/>
<rect x="1427.5" y="861.1" width="32.0" height="32.0"/>
<rect x="1466.3" y="861.2" width="32.0" height="32.0"/>
<rect x="1505.1" y="861.2" width="32.0" height="32.0"/>
</g>
<text transform="translate(744.0 934.3) scale(1 1.035)" font-size="44" text-anchor="middle" fill="#262626">40</text>
<text transform="translate(938.1 934.3) scale(1 1.035)" font-size="44" text-anchor="middle" fill="#262626">45</text>
<text transform="translate(1132.2 934.3) scale(1 1.035)" font-size="44" text-anchor="middle" fill="#262626">50</text>
<text transform="translate(1326.3 934.3) scale(1 1.035)" font-size="44" text-anchor="middle" fill="#262626">55</text>
<text transform="translate(1520.4 934.3) scale(1 1.035)" font-size="44" text-anchor="middle" fill="#262626">60</text>
<text transform="translate(732.6 898.2) scale(1 1.035)" font-size="44" text-anchor="end" fill="#262626">0</text>
<text transform="translate(732.6 773.8) scale(1 1.035)" font-size="44" text-anchor="end" fill="#262626">10</text>
<text transform="translate(732.6 649.4) scale(1 1.035)" font-size="44" text-anchor="end" fill="#262626">20</text>
<text transform="translate(732.6 524.9) scale(1 1.035)" font-size="44" text-anchor="end" fill="#262626">30</text>
<text transform="translate(732.6 400.5) scale(1 1.035)" font-size="44" text-anchor="end" fill="#262626">40</text>
<text transform="translate(732.6 276.1) scale(1 1.035)" font-size="44" text-anchor="end" fill="#262626">50</text>
</svg>
</body></html>
